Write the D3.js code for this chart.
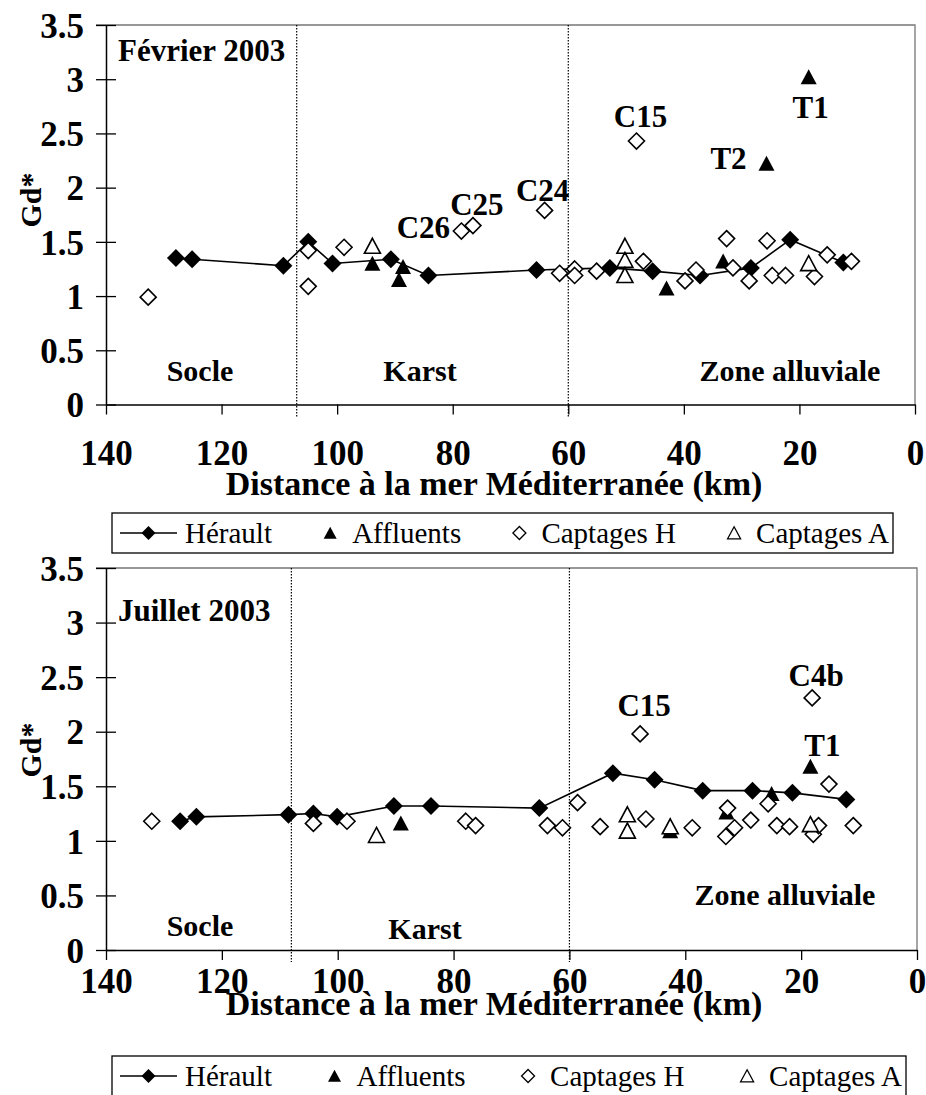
<!DOCTYPE html>
<html><head><meta charset="utf-8">
<script src="https://cdn.jsdelivr.net/npm/d3@7"></script>
<style>
body{margin:0;background:#fff}
svg{display:block}
text{font-family:"Liberation Serif","Times New Roman",serif;fill:#000}
</style>
</head><body>
<svg id="chart" width="926" height="1095"></svg>
<script>
// ---------- DATA ----------
const xTickValues = [140, 120, 100, 80, 60, 40, 20, 0];
const yTickValues = [0, 0.5, 1, 1.5, 2, 2.5, 3, 3.5];
const yTickLabels = ["0", "0.5", "1", "1.5", "2", "2.5", "3", "3.5"];
const seriesNames = ["Hérault", "Affluents", "Captages H", "Captages A"];
const zoneNames = ["Socle", "Karst", "Zone alluviale"];
const axisTitleX = "Distance à la mer Méditerranée (km)";
const axisTitleY = "Gd*";

// Février 2003
const febHeraultX = [127.9, 125.1, 109.3, 105.0, 100.8, 90.7, 84.2, 65.5, 52.8, 45.4, 37.2, 28.4, 21.6, 12.4];
const febHeraultY = [1.35, 1.34, 1.28, 1.50, 1.30, 1.34, 1.19, 1.24, 1.26, 1.23, 1.19, 1.26, 1.52, 1.31];
const febAffluentsX = [93.9, 88.6, 89.3, 43.0, 33.2, 25.7, 18.4];
const febAffluentsY = [1.29, 1.26, 1.14, 1.06, 1.31, 2.21, 3.01];
const febCaptHX = [132.7, 105.0, 105.0, 98.8, 78.5, 76.5, 64.1, 61.5, 58.9, 58.9, 55.1, 48.2, 47.0, 39.8, 37.9, 32.6, 31.5, 28.7, 25.6, 24.7, 22.4, 17.4, 15.2, 11.0];
const febCaptHY = [0.99, 1.42, 1.09, 1.45, 1.60, 1.65, 1.79, 1.21, 1.25, 1.19, 1.23, 2.43, 1.32, 1.14, 1.24, 1.53, 1.26, 1.14, 1.51, 1.19, 1.19, 1.18, 1.38, 1.32];
const febCaptAX = [93.9, 50.2, 50.2, 50.2, 18.4];
const febCaptAY = [1.45, 1.45, 1.32, 1.18, 1.29];
const febLabelText = ["C26", "C25", "C24", "C15", "T2", "T1"];
const febLabelX = [78.5, 76.5, 64.1, 48.2, 25.7, 18.4];
const febLabelY = [1.60, 1.65, 1.79, 2.43, 2.21, 3.01];
const febZoneBounds = [107, 60];

// Juillet 2003
const julHeraultX = [127.2, 124.4, 108.5, 104.2, 100.1, 90.3, 83.9, 65.2, 52.5, 45.3, 37.0, 28.4, 21.5, 12.2];
const julHeraultY = [1.18, 1.22, 1.24, 1.25, 1.22, 1.32, 1.32, 1.30, 1.62, 1.56, 1.46, 1.46, 1.44, 1.38];
const julAffluentsX = [89.1, 50.0, 42.6, 32.9, 25.1, 18.4];
const julAffluentsY = [1.15, 1.09, 1.08, 1.25, 1.42, 1.67];
const julCaptHX = [132.1, 104.2, 98.4, 77.9, 76.2, 63.8, 61.2, 58.6, 54.7, 47.8, 46.8, 38.8, 32.7, 31.5, 33.0, 28.7, 25.7, 24.2, 22.0, 17.9, 17.0, 15.2, 11.0, 18.1];
const julCaptHY = [1.18, 1.16, 1.18, 1.18, 1.14, 1.14, 1.12, 1.35, 1.13, 1.98, 1.20, 1.12, 1.30, 1.12, 1.04, 1.19, 1.34, 1.14, 1.13, 1.06, 1.14, 1.52, 1.14, 2.31];
const julCaptAX = [93.3, 50.0, 50.0, 42.6, 18.4];
const julCaptAY = [1.04, 1.23, 1.08, 1.12, 1.14];
const julLabelText = ["C15", "C4b", "T1"];
const julLabelX = [47.8, 18.1, 18.4];
const julLabelY = [1.98, 2.31, 1.67];
const julZoneBounds = [108, 60];

// ---------- LAYOUT (positions / styles) ----------
const panels = [
  {
    title: "Février 2003",
    heraultX: febHeraultX, heraultY: febHeraultY,
    affX: febAffluentsX, affY: febAffluentsY,
    chX: febCaptHX, chY: febCaptHY,
    caX: febCaptAX, caY: febCaptAY,
    labText: febLabelText, labX: febLabelX, labY: febLabelY,
    labOff: [[-38, -4], [4, -21], [-2, -20], [4, -25], [-38, -7], [2, 29]],
    bounds: febZoneBounds,
    L: 106, R: 915, T: 25, B: 404.5,
    titlePos: [118, 50],
    zonePos: [[200, 0.31], [420, 0.31], [790, 0.31]],
    tickLabelDy: 48, xTitleY: 483, yTitleY: 200,
    legend: { x: 112, y: 513, w: 781, h: 40 }
  },
  {
    title: "Juillet 2003",
    heraultX: julHeraultX, heraultY: julHeraultY,
    affX: julAffluentsX, affY: julAffluentsY,
    chX: julCaptHX, chY: julCaptHY,
    caX: julCaptAX, caY: julCaptAY,
    labText: julLabelText, labX: julLabelX, labY: julLabelY,
    labOff: [[4, -29], [4, -23], [12, -23]],
    bounds: julZoneBounds,
    L: 106, R: 917, T: 568, B: 950,
    titlePos: [118, 610],
    zonePos: [[200, 0.22], [425, 0.20], [785, 0.51]],
    tickLabelDy: 31, xTitleY: 1003, yTitleY: 750,
    legend: { x: 112, y: 1056, w: 794, h: 40 }
  }
];

const svg = d3.select("#chart");

function diamond(r) { return `M0,${-r}L${r},0L0,${r}L${-r},0Z`; }
function triangle(w, h) { return `M0,${-h * 0.6}L${w / 2},${h * 0.4}L${-w / 2},${h * 0.4}Z`; }

panels.forEach(p => {
  const g = svg.append("g");
  const x = d3.scaleLinear().domain([140, 0]).range([p.L, p.R]);
  const y = d3.scaleLinear().domain([0, 3.5]).range([p.B, p.T]);

  // plot border (top and right)
  g.append("path")
    .attr("d", `M${p.L - 10},${y(3.5)}H${x(0)}V${y(0)}`)
    .attr("fill", "none").attr("stroke", "#777").attr("stroke-width", 1.3);

  // zone separators
  p.bounds.forEach(b => {
    g.append("line")
      .attr("x1", x(b)).attr("x2", x(b))
      .attr("y1", y(3.5)).attr("y2", y(0) + 12)
      .attr("stroke", "#000").attr("stroke-width", 1.2)
      .attr("stroke-dasharray", "1.5,1.5");
  });

  // y axis
  const ya = g.append("g").attr("transform", `translate(${p.L},0)`)
    .call(d3.axisLeft(y).tickValues(yTickValues)
      .tickFormat((d, i) => yTickLabels[i])
      .tickSizeInner(10).tickSizeOuter(0).tickPadding(12));
  ya.select(".domain").attr("stroke", "#000").attr("stroke-width", 1.5);
  ya.selectAll(".tick line").attr("x1", 10).attr("stroke", "#000").attr("stroke-width", 1.3);
  ya.selectAll(".tick text")
    .attr("font-family", "Liberation Serif, serif").attr("font-weight", "bold")
    .attr("font-size", 35).attr("dy", "0.35em");

  // x axis
  const xa = g.append("g").attr("transform", `translate(0,${p.B})`)
    .call(d3.axisBottom(x).tickValues(xTickValues)
      .tickFormat(d3.format("d")).tickSizeInner(10).tickSizeOuter(0));
  xa.select(".domain").attr("stroke", "#000").attr("stroke-width", 1.5);
  xa.selectAll(".tick line").attr("stroke", "#000").attr("stroke-width", 1.3);
  xa.selectAll(".tick text")
    .attr("font-family", "Liberation Serif, serif").attr("font-weight", "bold")
    .attr("font-size", 35).attr("y", p.tickLabelDy).attr("dy", "0.35em");

  // axis titles
  g.append("text").attr("x", 494).attr("y", p.xTitleY).attr("dy", "0.35em")
    .attr("text-anchor", "middle").attr("font-weight", "bold").attr("font-size", 34)
    .text(axisTitleX);
  g.append("text")
    .attr("transform", `translate(30,${p.yTitleY}) rotate(-90)`)
    .attr("dy", "0.35em").attr("text-anchor", "middle")
    .attr("font-weight", "bold").attr("font-size", 30).text(axisTitleY);

  // panel title
  g.append("text").attr("x", p.titlePos[0]).attr("y", p.titlePos[1]).attr("dy", "0.35em")
    .attr("font-weight", "bold").attr("font-size", 31).text(p.title);

  // zone names
  zoneNames.forEach((z, i) => {
    g.append("text").attr("x", p.zonePos[i][0]).attr("y", y(p.zonePos[i][1])).attr("dy", "0.35em")
      .attr("text-anchor", "middle").attr("font-weight", "bold").attr("font-size", 30).text(z);
  });

  // Hérault line + markers
  const hPts = p.heraultX.map((v, i) => [v, p.heraultY[i]]);
  g.append("path").datum(hPts)
    .attr("d", d3.line().x(d => x(d[0])).y(d => y(d[1])))
    .attr("fill", "none").attr("stroke", "#000").attr("stroke-width", 1.6);
  g.selectAll(null).data(hPts).join("path")
    .attr("transform", d => `translate(${x(d[0])},${y(d[1])})`)
    .attr("d", diamond(9)).attr("fill", "#000");

  // Affluents
  const aPts = p.affX.map((v, i) => [v, p.affY[i]]);
  g.selectAll(null).data(aPts).join("path")
    .attr("transform", d => `translate(${x(d[0])},${y(d[1])})`)
    .attr("d", triangle(16, 15)).attr("fill", "#000");

  // Captages H
  const chPts = p.chX.map((v, i) => [v, p.chY[i]]);
  g.selectAll(null).data(chPts).join("path")
    .attr("transform", d => `translate(${x(d[0])},${y(d[1])})`)
    .attr("d", diamond(8)).attr("fill", "#fff").attr("stroke", "#000").attr("stroke-width", 1.6);

  // Captages A
  const caPts = p.caX.map((v, i) => [v, p.caY[i]]);
  g.selectAll(null).data(caPts).join("path")
    .attr("transform", d => `translate(${x(d[0])},${y(d[1])})`)
    .attr("d", triangle(16, 15)).attr("fill", "#fff").attr("stroke", "#000").attr("stroke-width", 1.6);

  // point labels
  p.labText.forEach((t, i) => {
    g.append("text")
      .attr("x", x(p.labX[i]) + p.labOff[i][0])
      .attr("y", y(p.labY[i]) + p.labOff[i][1])
      .attr("dy", "0.35em").attr("text-anchor", "middle")
      .attr("font-weight", "bold").attr("font-size", 31).text(t);
  });

  // legend (entries spread evenly across the box)
  const lg = g.append("g").attr("transform", `translate(${p.legend.x},${p.legend.y})`);
  lg.append("rect").attr("width", p.legend.w).attr("height", p.legend.h)
    .attr("fill", "#fff").attr("stroke", "#000").attr("stroke-width", 1.3);
  const cy = p.legend.h / 2;
  const fs = 29;
  const innerL = 8, innerR = p.legend.w - 4;
  const widths = seriesNames.map(s => {
    const t = lg.append("text").attr("font-size", fs).text(s);
    const w = t.node().getComputedTextLength(); t.remove(); return w;
  });
  const lead = [57, 16, 16, 16];
  const sep = [8, 14, 14, 14];
  const entryW = widths.map((w, i) => lead[i] + sep[i] + w);
  const gap = (innerR - innerL - d3.sum(entryW)) / 3;
  let cx = innerL;
  seriesNames.forEach((s, i) => {
    const sx = cx + lead[i] / 2;
    if (i === 0) {
      lg.append("line").attr("x1", cx).attr("x2", cx + lead[0]).attr("y1", cy).attr("y2", cy)
        .attr("stroke", "#000").attr("stroke-width", 1.6);
      lg.append("path").attr("transform", `translate(${sx},${cy})`).attr("d", diamond(7)).attr("fill", "#000");
    } else if (i === 1) {
      lg.append("path").attr("transform", `translate(${sx},${cy + 1})`).attr("d", triangle(13, 12)).attr("fill", "#000");
    } else if (i === 2) {
      lg.append("path").attr("transform", `translate(${sx},${cy})`).attr("d", diamond(6.5))
        .attr("fill", "#fff").attr("stroke", "#000").attr("stroke-width", 1.3);
    } else {
      lg.append("path").attr("transform", `translate(${sx},${cy + 1})`).attr("d", triangle(13, 12))
        .attr("fill", "#fff").attr("stroke", "#000").attr("stroke-width", 1.3);
    }
    lg.append("text").attr("x", cx + lead[i] + sep[i]).attr("y", cy).attr("dy", "0.35em")
      .attr("font-size", fs).text(s);
    cx += entryW[i] + gap;
  });
});
</script>
</body></html>
